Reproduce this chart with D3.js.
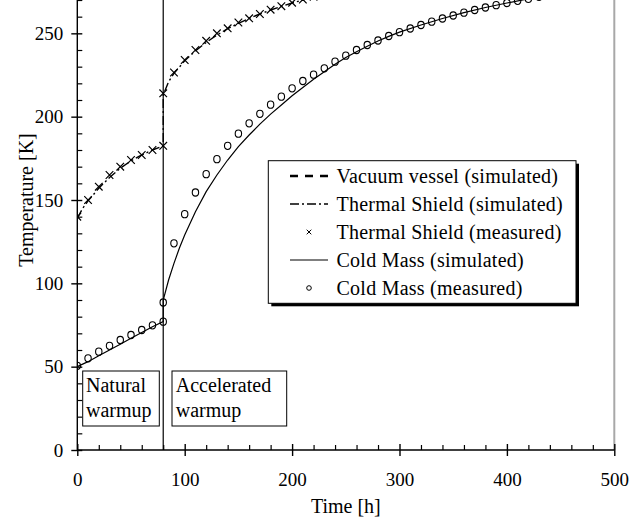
<!DOCTYPE html>
<html><head><meta charset="utf-8">
<script src="https://cdn.jsdelivr.net/npm/d3@7"></script>
<style>
html,body{margin:0;padding:0;background:#fff;}
svg{display:block;font-family:"Liberation Serif","Times New Roman",serif;}
</style></head>
<body>
<svg id="chart" width="631" height="517"></svg>
<script>
// ---------- data ----------
const xTicks = [0, 100, 200, 300, 400, 500];
const yTicks = [0, 50, 100, 150, 200, 250];
const xLabel = "Time [h]";
const yLabel = "Temperature [K]";
const seriesNames = ["Vacuum vessel (simulated)", "Thermal Shield (simulated)", "Thermal Shield (measured)", "Cold Mass (simulated)", "Cold Mass (measured)"];
const phaseLabels = [["Natural", "warmup"], ["Accelerated", "warmup"]];
const phaseSwitch = 80;

const vvSimT = [0, 80, 100, 200, 300, 400, 500];
const vvSimV = [292, 292, 294, 295, 295, 295, 295];

const tsSimT = [0, 5, 10, 20, 30, 40, 50, 60, 70, 80, 80, 85, 90, 100, 110, 120, 130, 140, 150, 160, 170, 180, 190, 200, 220, 240, 260, 300, 400, 500];
const tsSimV = [139, 145, 149.5, 157, 163.5, 169, 173.5, 177, 180, 182.5, 213, 221, 226, 233.5, 239.5, 244.5, 249, 252.8, 256, 259, 261.6, 264, 266.2, 268.2, 271.8, 275, 277.8, 282.5, 290, 294];

const tsMeasT = [0, 10, 20, 30, 40, 50, 60, 70, 80, 80, 90, 100, 110, 120, 130, 140, 150, 160, 170, 180, 190, 200, 210, 220, 230, 240, 250];
const tsMeasV = [140, 150, 158, 165, 170, 174, 177, 180, 182.5, 214, 226.5, 234, 240, 245.5, 250, 253, 256.5, 259, 261.6, 264.2, 266.3, 268.4, 270.3, 272, 273.6, 275, 276.3];

const cmSimT = [0, 10, 20, 30, 40, 50, 60, 70, 80, 80, 85, 90, 95, 100, 110, 120, 130, 140, 150, 160, 170, 180, 190, 200, 210, 220, 230, 240, 250, 260, 270, 280, 290, 300, 320, 340, 360, 380, 400, 420, 440, 460, 480, 500];
const cmSimV = [50, 53, 56.5, 60, 63.5, 67, 70.5, 74, 77, 90, 102, 112, 121, 129, 143, 155, 165, 174, 182, 189, 195.5, 201.5, 207, 212.5, 217.5, 222.5, 227, 231.5, 235.5, 239, 242.3, 245.4, 248.2, 250.7, 255, 258.9, 262.4, 265.5, 268.2, 270.7, 273, 275, 277, 279];

const cmMeasT = [0, 10, 20, 30, 40, 50, 60, 70, 80, 80, 90, 100, 110, 120, 130, 140, 150, 160, 170, 180, 190, 200, 210, 220, 230, 240, 250, 260, 270, 280, 290, 300, 310, 320, 330, 340, 350, 360, 370, 380, 390, 400, 410, 420, 430, 440];
const cmMeasV = [50.5, 55, 59, 62.5, 66, 69, 72, 74.8, 77, 88.5, 124, 141.5, 154.5, 165.5, 174.5, 182.5, 189.8, 196, 201.7, 207.2, 212, 217, 221.4, 225.2, 229, 233, 236.6, 240, 243, 245.7, 248.4, 250.7, 252.9, 255, 257, 258.9, 260.7, 262.4, 264, 265.5, 266.9, 268.2, 269.5, 270.7, 271.9, 273];

// ---------- layout ----------
const svg = d3.select("#chart");
const pL = 77.3, pR = 614.3, pB = 450, pT = -50;
const x = d3.scaleLinear().domain([0, 500]).range([pL, pR]);
const y = d3.scaleLinear().domain([0, 300]).range([pB, pT]);
const zip = (a, b) => a.map((t, i) => [t, b[i]]);

svg.append("defs").append("clipPath").attr("id", "plot")
  .append("rect").attr("x", pL).attr("y", 0).attr("width", pR - pL).attr("height", pB);

// grey right border
svg.append("line").attr("x1", pR).attr("x2", pR).attr("y1", 0).attr("y2", pB)
  .attr("stroke", "#a8a8a8").attr("stroke-width", 2);

// phase divider
svg.append("line").attr("x1", x(phaseSwitch)).attr("x2", x(phaseSwitch)).attr("y1", 0).attr("y2", pB)
  .attr("stroke", "#000").attr("stroke-width", 1.2);

const line = d3.line().x(d => x(d[0])).y(d => y(d[1]));
const g = svg.append("g").attr("clip-path", "url(#plot)");

g.append("path").datum(zip(vvSimT, vvSimV)).attr("d", line).attr("fill", "none")
  .attr("stroke", "#000").attr("stroke-width", 2.5).attr("stroke-dasharray", "8,6");
g.append("path").datum(zip(tsSimT, tsSimV)).attr("d", line).attr("fill", "none")
  .attr("stroke", "#000").attr("stroke-width", 1.4).attr("stroke-dasharray", "9,3,2,3");
g.append("path").datum(zip(cmSimT, cmSimV)).attr("d", line).attr("fill", "none")
  .attr("stroke", "#000").attr("stroke-width", 1.2);

const cross = (sel, s) => sel.attr("d", d => {
  const cx = x(d[0]), cy = y(d[1]);
  return `M${cx - s},${cy - s}L${cx + s},${cy + s}M${cx - s},${cy + s}L${cx + s},${cy - s}`;
});
g.selectAll("path.xm").data(zip(tsMeasT, tsMeasV)).join("path").attr("class", "xm")
  .call(cross, 3.8).attr("stroke", "#000").attr("stroke-width", 1.2).attr("fill", "none");
g.selectAll("ellipse.cm").data(zip(cmMeasT, cmMeasV)).join("ellipse").attr("class", "cm")
  .attr("cx", d => x(d[0])).attr("cy", d => y(d[1])).attr("rx", 3.2).attr("ry", 3.6)
  .attr("fill", "none").attr("stroke", "#000").attr("stroke-width", 1.1);

// ---------- axes ----------
const fs = 19;
const xAxis = svg.append("g").attr("transform", `translate(0,${pB})`)
  .call(d3.axisBottom(x).tickValues(xTicks).tickSize(6).tickPadding(17).tickFormat(d3.format("d")));
xAxis.select(".domain").attr("stroke-width", 1.4).attr("d", `M${pL},0H${pR}`);
xAxis.selectAll(".tick line").attr("y1", -6).attr("y2", 6).attr("stroke-width", 1.4);
xAxis.selectAll("text").attr("font-size", fs).attr("font-family", "Liberation Serif").attr("fill", "#000");
const xMinor = svg.append("g").attr("transform", `translate(0,${pB})`)
  .call(d3.axisBottom(x).tickValues(d3.range(20, 500, 20).filter(v => v % 100)).tickSize(-5).tickFormat(""));
xMinor.select(".domain").remove();
xMinor.selectAll(".tick line").attr("stroke-width", 1.2);

const yAxis = svg.append("g").attr("transform", `translate(${pL},0)`)
  .call(d3.axisLeft(y).tickValues(yTicks).tickSize(6).tickPadding(8).tickFormat(d3.format("d")));
yAxis.select(".domain").attr("stroke-width", 1.4).attr("d", `M0,${pB}V0`);
yAxis.selectAll(".tick line").attr("x1", -6).attr("x2", 5).attr("stroke-width", 1.4);
yAxis.selectAll("text").attr("font-size", fs).attr("font-family", "Liberation Serif").attr("fill", "#000");
const yMinor = svg.append("g").attr("transform", `translate(${pL},0)`)
  .call(d3.axisLeft(y).tickValues(d3.range(10, 300, 10).filter(v => v % 50)).tickSize(-5).tickFormat(""));
yMinor.select(".domain").remove();
yMinor.selectAll(".tick line").attr("stroke-width", 1.2);

svg.append("text").attr("x", (pL + pR) / 2).attr("y", 513).attr("text-anchor", "middle")
  .attr("font-size", 20).text(xLabel);
svg.append("text").attr("transform", `translate(33,${(pT + pB) / 2}) rotate(-90)`)
  .attr("text-anchor", "middle").attr("font-size", 20).text(yLabel);

// ---------- phase boxes ----------
const boxes = [{x0: 82.7, x1: 159.3, tx: 86}, {x0: 172, x1: 286.7, tx: 175.7}];
boxes.forEach((b, i) => {
  svg.append("rect").attr("x", b.x0).attr("y", 371).attr("width", b.x1 - b.x0).attr("height", 55)
    .attr("fill", "#fff").attr("stroke", "#000").attr("stroke-width", 1);
  phaseLabels[i].forEach((t, j) => svg.append("text").attr("x", b.tx).attr("y", 392 + j * 25)
    .attr("font-size", 20).text(t));
});

// ---------- legend ----------
const lg = {x0: 268.3, y0: 160.7, x1: 576, y1: 303.3};
svg.append("rect").attr("x", lg.x0 + 3).attr("y", lg.y0 + 3).attr("width", lg.x1 - lg.x0).attr("height", lg.y1 - lg.y0)
  .attr("fill", "#000");
svg.append("rect").attr("x", lg.x0).attr("y", lg.y0).attr("width", lg.x1 - lg.x0).attr("height", lg.y1 - lg.y0)
  .attr("fill", "#fff").attr("stroke", "#000").attr("stroke-width", 1);
const rows = [176, 204, 232, 260, 288];
const sx0 = 290, sx1 = 328;
svg.append("line").attr("x1", sx0).attr("x2", sx1).attr("y1", rows[0]).attr("y2", rows[0])
  .attr("stroke", "#000").attr("stroke-width", 2.5).attr("stroke-dasharray", "8,7");
svg.append("line").attr("x1", sx0).attr("x2", sx1).attr("y1", rows[1]).attr("y2", rows[1])
  .attr("stroke", "#000").attr("stroke-width", 1.4).attr("stroke-dasharray", "9,3,2,3");
svg.append("path").datum([x.invert((sx0 + sx1) / 2), y.invert(rows[2])]).call(cross, 2.3)
  .attr("stroke", "#000").attr("stroke-width", 1).attr("fill", "none");
svg.append("line").attr("x1", sx0).attr("x2", sx1).attr("y1", rows[3]).attr("y2", rows[3])
  .attr("stroke", "#000").attr("stroke-width", 1.2);
svg.append("circle").attr("cx", (sx0 + sx1) / 2).attr("cy", rows[4]).attr("r", 2.3)
  .attr("fill", "none").attr("stroke", "#000").attr("stroke-width", 1);
seriesNames.forEach((n, i) => svg.append("text").attr("x", 336.5).attr("y", rows[i] + 6.5)
  .attr("font-size", 20).attr("letter-spacing", 0.25).text(n));
</script>
</body></html>
